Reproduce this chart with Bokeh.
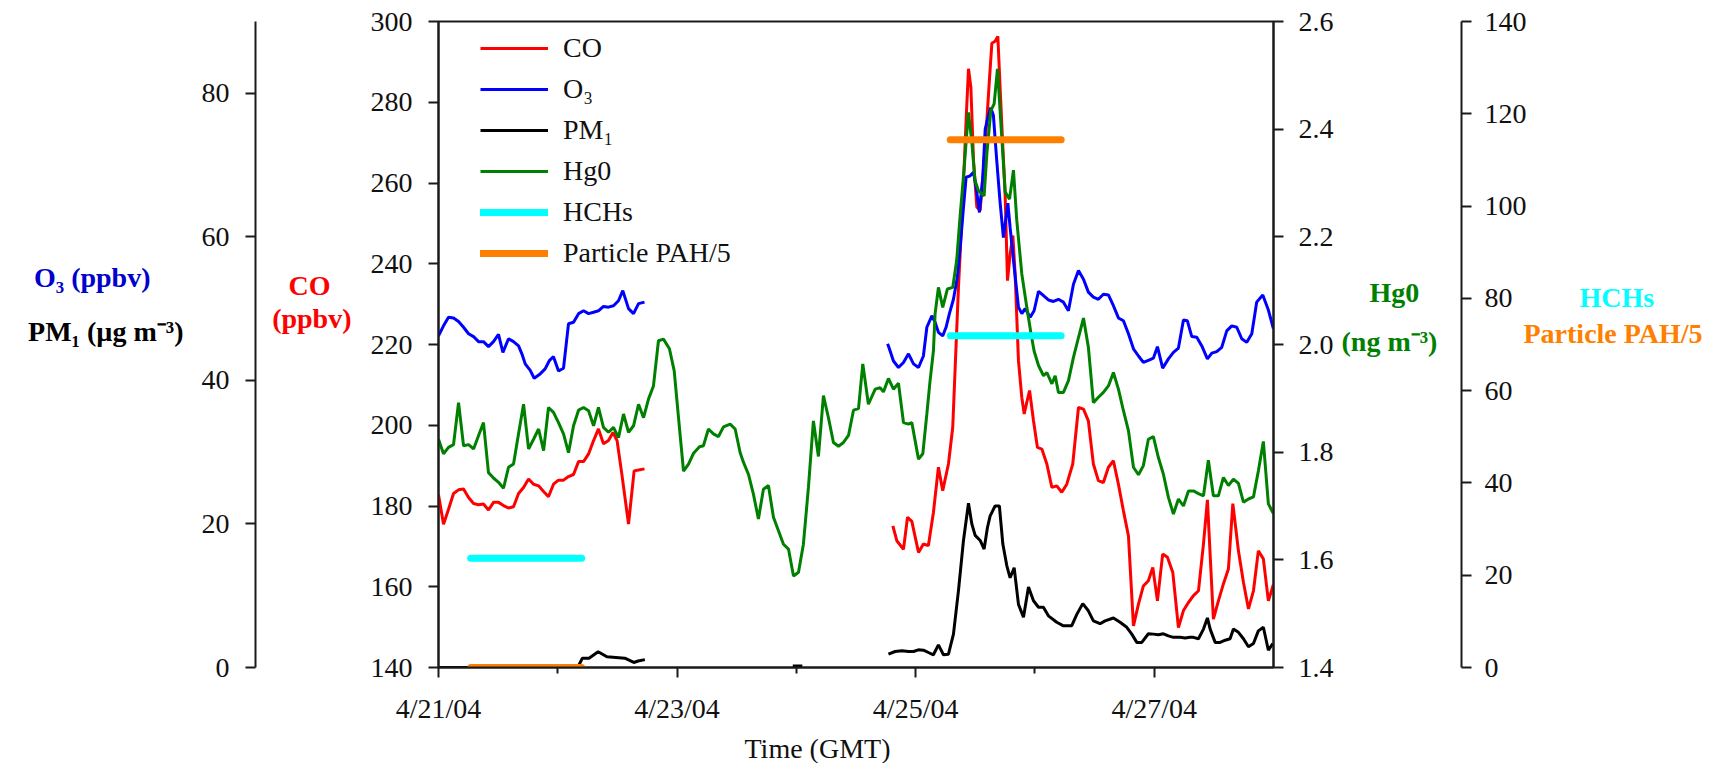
from bokeh.plotting import figure
from bokeh.models import Range1d, LinearAxis, FixedTicker, PrintfTickFormatter
from bokeh.embed import file_html
from bokeh.resources import INLINE

nan = float("nan")

# ---------------- data (time in days since 4/21/04 00:00 GMT) ----------------
x_tick_days = [0, 2, 4, 6]
x_tick_labels = ["4/21/04", "4/23/04", "4/25/04", "4/27/04"]
x_minor_days = [1, 3, 5]
co_ticks = [140, 160, 180, 200, 220, 240, 260, 280, 300]
o3_ticks = [0, 20, 40, 60, 80]
hg_ticks = [1.4, 1.6, 1.8, 2.0, 2.2, 2.4, 2.6]
hch_ticks = [0, 20, 40, 60, 80, 100, 120, 140]

co_t = [0.0, 0.042, 0.084, 0.126, 0.168, 0.210, 0.252, 0.294, 0.336, 0.377, 0.419, 0.461, 0.503,
        0.545, 0.587, 0.629, 0.671, 0.713, 0.755, 0.797, 0.839, 0.881, 0.922, 0.964, 1.006, 1.048,
        1.090, 1.132, 1.174, 1.216, 1.258, 1.300, 1.341, 1.383, 1.425, 1.463, 1.497, 1.537, 1.593,
        1.640, 1.677, 1.727, 2.5,
        3.809, 3.842, 3.898, 3.932, 3.968, 4.024, 4.065, 4.107, 4.149, 4.191, 4.227, 4.275, 4.311,
        4.359, 4.387, 4.409, 4.423, 4.443, 4.463, 4.485, 4.513, 4.541, 4.568, 4.597, 4.619, 4.639,
        4.666, 4.689, 4.708, 4.731, 4.750, 4.770, 4.792, 4.815, 4.834, 4.862, 4.890, 4.910, 4.932,
        4.955, 4.988, 5.021, 5.058, 5.100, 5.142, 5.183, 5.225, 5.267, 5.317, 5.365, 5.407, 5.448,
        5.490, 5.532, 5.574, 5.616, 5.658, 5.700, 5.742, 5.784, 5.826, 5.868, 5.909, 5.951, 5.988,
        6.027, 6.071, 6.111, 6.156, 6.203, 6.245, 6.287, 6.329, 6.371, 6.413, 6.446, 6.496, 6.538,
        6.580, 6.622, 6.659, 6.706, 6.748, 6.790, 6.832, 6.873, 6.915, 6.957, 6.999]
co_ppbv = [182.8, 175.5, 179.2, 183.1, 184.0, 184.2, 182.1, 180.6, 180.3, 180.5, 179.0, 180.9, 180.9,
           180.1, 179.5, 179.8, 183.1, 184.6, 186.7, 185.4, 185.0, 183.6, 182.3, 185.4, 186.4, 186.4,
           187.3, 187.8, 191.0, 191.0, 192.9, 196.2, 199.1, 195.4, 196.2, 198.2, 196.2, 187.9, 175.5,
           188.7, 188.9, 189.2, nan,
           175.1, 171.4, 169.3, 177.2, 176.2, 168.5, 170.6, 170.2, 178.4, 189.6, 183.8, 190.4, 199.5,
           234.2, 250.7, 265.6, 275.5, 288.3, 283.7, 265.6, 254.0, 253.2, 263.1, 275.5, 285.8, 294.6,
           295.1, 296.3, 283.7, 268.9, 257.3, 235.8, 242.4, 247.0, 237.5, 216.0, 206.9, 202.8, 205.7,
           208.6, 201.1, 194.5, 194.1, 190.4, 184.6, 185.0, 183.4, 185.4, 190.4, 204.4, 204.0, 201.1,
           190.4, 186.3, 185.8, 189.6, 191.2, 185.4, 178.8, 172.6, 150.3, 155.7, 160.2, 161.5, 164.8,
           156.5, 168.1, 167.3, 163.5, 149.9, 154.1, 156.1, 157.8, 159.0, 170.6, 181.5, 152.0, 156.5,
           160.7, 164.4, 180.6, 168.9, 161.1, 154.5, 159.0, 168.9, 166.9, 156.5, 160.5]

o3_t = [0.0, 0.042, 0.084, 0.126, 0.168, 0.210, 0.252, 0.294, 0.336, 0.377, 0.419, 0.461, 0.503,
        0.540, 0.587, 0.629, 0.671, 0.699, 0.727, 0.769, 0.802, 0.852, 0.894, 0.931, 0.964, 1.006,
        1.048, 1.090, 1.132, 1.174, 1.216, 1.258, 1.300, 1.341, 1.383, 1.425, 1.467, 1.509, 1.545,
        1.593, 1.635, 1.677, 1.727, 2.5,
        3.764, 3.772, 3.814, 3.856, 3.898, 3.940, 3.982, 4.024, 4.065, 4.094, 4.136, 4.163, 4.191,
        4.227, 4.255, 4.283, 4.317, 4.350, 4.373, 4.401, 4.423, 4.457, 4.485, 4.507, 4.535, 4.563,
        4.583, 4.610, 4.630, 4.652, 4.680, 4.708, 4.736, 4.773, 4.792, 4.826, 4.862, 4.890, 4.918,
        4.960, 4.993, 5.030, 5.072, 5.113, 5.155, 5.197, 5.239, 5.281, 5.323, 5.365, 5.407, 5.448,
        5.490, 5.532, 5.574, 5.616, 5.658, 5.700, 5.742, 5.784, 5.826, 5.868, 5.909, 5.951, 5.993,
        6.027, 6.071, 6.119, 6.161, 6.203, 6.245, 6.278, 6.315, 6.357, 6.399, 6.446, 6.483, 6.524,
        6.566, 6.608, 6.650, 6.692, 6.734, 6.776, 6.818, 6.859, 6.910, 6.957, 6.999]
o3_ppbv = [46.2, 47.6, 48.8, 48.7, 48.2, 47.4, 46.5, 46.1, 45.4, 45.4, 44.7, 45.4, 46.4,
           43.9, 45.8, 45.4, 44.8, 43.7, 42.3, 41.4, 40.3, 40.9, 41.6, 42.8, 43.3, 41.3,
           41.7, 47.9, 48.1, 49.3, 49.7, 49.3, 49.5, 49.7, 50.3, 50.2, 50.4, 51.1, 52.5,
           50.0, 49.3, 50.7, 50.9, nan,
           45.1, 44.8, 42.7, 41.8, 42.5, 43.7, 42.3, 41.8, 43.4, 47.4, 49.0, 48.1, 46.7,
           46.2, 47.4, 49.3, 51.3, 54.4, 58.5, 64.1, 68.3, 68.5, 69.0, 66.9, 63.4, 68.3,
           75.0, 76.9, 78.0, 76.9, 70.6, 64.8, 59.9, 64.7, 61.3, 55.8, 50.2, 49.3, 50.0,
           48.8, 49.7, 52.4, 51.8, 51.2, 51.0, 51.3, 50.9, 49.7, 53.4, 55.3, 54.1, 52.3,
           51.6, 51.3, 52.0, 51.9, 50.4, 48.7, 48.3, 46.5, 44.4, 43.4, 42.5, 42.8, 43.1,
           44.7, 41.7, 43.0, 43.9, 44.5, 48.4, 48.3, 46.1, 46.0, 44.8, 43.0, 43.8, 44.0,
           44.6, 46.9, 47.6, 47.4, 45.8, 45.3, 46.5, 50.9, 51.9, 49.8, 47.2]

pm1_t = [0.0, 0.6, 1.17, 1.206, 1.262, 1.338, 1.412, 1.487, 1.562, 1.637, 1.674, 1.730, 2.3,
         2.97, 3.05, 3.4,
         3.772, 3.828, 3.884, 3.940, 3.982, 4.023, 4.065, 4.107, 4.149, 4.191, 4.233, 4.275, 4.317,
         4.359, 4.401, 4.443, 4.471, 4.499, 4.541, 4.574, 4.602, 4.624, 4.666, 4.702, 4.731, 4.764,
         4.792, 4.826, 4.862, 4.904, 4.946, 4.988, 5.030, 5.071, 5.113, 5.183, 5.239, 5.308, 5.351,
         5.401, 5.448, 5.490, 5.546, 5.588, 5.658, 5.714, 5.770, 5.812, 5.854, 5.896, 5.951, 5.993,
         6.035, 6.077, 6.119, 6.161, 6.217, 6.259, 6.301, 6.329, 6.371, 6.413, 6.446, 6.469, 6.511,
         6.553, 6.595, 6.636, 6.664, 6.706, 6.748, 6.790, 6.832, 6.873, 6.915, 6.957, 6.994]
pm1_ugm3 = [0.0, 0.0, 0.1, 1.3, 1.3, 2.2, 1.5, 1.4, 1.3, 0.7, 0.9, 1.1, nan,
            0.2, 0.2, nan,
            1.86, 2.23, 2.32, 2.23, 2.23, 2.46, 2.42, 2.09, 1.77, 3.16, 1.77, 1.86, 4.65,
            10.7, 17.7, 22.9, 20.0, 18.4, 17.7, 16.5, 19.5, 21.1, 22.5, 22.5, 17.2, 14.2,
            12.5, 13.9, 8.8, 7.0, 11.2, 9.3, 8.4, 8.4, 7.2, 6.3, 5.8, 5.8, 7.4,
            8.9, 7.9, 6.5, 6.1, 6.5, 6.9, 6.3, 5.6, 4.65, 3.5, 3.5, 4.7, 4.65,
            4.55, 4.7, 4.4, 4.2, 4.2, 4.1, 4.2, 4.2, 4.0, 5.35, 6.9, 5.35, 3.5,
            3.5, 3.8, 4.0, 5.35, 4.9, 4.0, 2.9, 3.35, 5.1, 5.6, 2.4, 3.35]

hg_t = [0.0, 0.042, 0.084, 0.126, 0.168, 0.210, 0.252, 0.294, 0.336, 0.377, 0.419, 0.461, 0.503,
        0.545, 0.587, 0.629, 0.671, 0.713, 0.755, 0.797, 0.839, 0.881, 0.922, 0.964, 1.006, 1.048,
        1.090, 1.132, 1.174, 1.216, 1.258, 1.300, 1.341, 1.383, 1.425, 1.467, 1.509, 1.551, 1.593,
        1.635, 1.677, 1.719, 1.761, 1.802, 1.844, 1.886, 1.936, 1.976, 2.012, 2.054, 2.096, 2.138,
        2.188, 2.221, 2.263, 2.305, 2.347, 2.389, 2.445, 2.487, 2.529, 2.557, 2.598, 2.640, 2.682,
        2.724, 2.766, 2.808, 2.850, 2.892, 2.934, 2.976, 3.018, 3.059, 3.101, 3.143, 3.185, 3.227,
        3.269, 3.311, 3.353, 3.395, 3.437, 3.479, 3.521, 3.557, 3.604, 3.661, 3.702, 3.730, 3.772,
        3.814, 3.856, 3.898, 3.940, 3.968, 3.996, 4.024, 4.060, 4.094, 4.121, 4.149, 4.163, 4.191,
        4.227, 4.266, 4.311, 4.344, 4.372, 4.406, 4.442, 4.470, 4.498, 4.526, 4.574, 4.597, 4.630,
        4.658, 4.686, 4.717, 4.751, 4.787, 4.820, 4.848, 4.890, 4.932, 4.966, 4.993, 5.030, 5.072,
        5.100, 5.142, 5.170, 5.197, 5.239, 5.281, 5.323, 5.365, 5.407, 5.448, 5.490, 5.532, 5.574,
        5.616, 5.658, 5.700, 5.742, 5.784, 5.826, 5.868, 5.909, 5.951, 5.993, 6.035, 6.077, 6.119,
        6.161, 6.203, 6.245, 6.287, 6.329, 6.371, 6.413, 6.454, 6.496, 6.538, 6.580, 6.622, 6.664,
        6.706, 6.748, 6.790, 6.832, 6.873, 6.915, 6.957, 6.999]
hg0_ngm3 = [1.824, 1.797, 1.809, 1.814, 1.892, 1.812, 1.814, 1.806, 1.831, 1.855, 1.762, 1.752, 1.744,
            1.733, 1.772, 1.778, 1.834, 1.889, 1.806, 1.824, 1.843, 1.803, 1.883, 1.874, 1.855, 1.834,
            1.799, 1.849, 1.878, 1.883, 1.877, 1.849, 1.883, 1.846, 1.837, 1.846, 1.827, 1.871, 1.837,
            1.849, 1.889, 1.864, 1.899, 1.923, 2.007, 2.010, 1.992, 1.951, 1.864, 1.765, 1.778, 1.798,
            1.810, 1.812, 1.843, 1.834, 1.829, 1.847, 1.852, 1.843, 1.799, 1.781, 1.759, 1.722, 1.676,
            1.731, 1.738, 1.679, 1.654, 1.629, 1.620, 1.570, 1.577, 1.629, 1.734, 1.858, 1.792, 1.905,
            1.864, 1.818, 1.811, 1.818, 1.831, 1.878, 1.881, 1.964, 1.889, 1.917, 1.920, 1.912, 1.937,
            1.917, 1.928, 1.855, 1.852, 1.855, 1.821, 1.787, 1.797, 1.871, 1.933, 1.988, 2.057, 2.106,
            2.069, 2.103, 2.106, 2.156, 2.236, 2.326, 2.431, 2.379, 2.304, 2.286, 2.276, 2.354, 2.434,
            2.447, 2.512, 2.403, 2.283, 2.270, 2.324, 2.230, 2.131, 2.069, 2.022, 1.988, 1.961, 1.942,
            1.948, 1.927, 1.942, 1.911, 1.911, 1.933, 1.976, 2.013, 2.049, 1.995, 1.892, 1.902, 1.911,
            1.923, 1.948, 1.917, 1.877, 1.840, 1.772, 1.758, 1.775, 1.824, 1.829, 1.790, 1.759, 1.716,
            1.685, 1.713, 1.700, 1.728, 1.728, 1.723, 1.719, 1.785, 1.719, 1.719, 1.753, 1.738, 1.750,
            1.742, 1.707, 1.713, 1.717, 1.765, 1.820, 1.704, 1.686]

sample_start = [0.27, 4.29]
sample_end = [1.20, 5.22]
hchs = [23.7, 71.9]
pah_div5 = [0.0, 114.4]

# ---------------- layout constants (page pixels) ----------------
FRAME_L, FRAME_T, FRAME_W, FRAME_H = 438, 21, 835, 646
FRAME_B = FRAME_T + FRAME_H
X0, X1 = 0, 7
CO0, CO1 = 140, 300
O30, O31 = 0, 90
HG0, HG1 = 1.4, 2.6
HC0, HC1 = 0, 140

FONT = "Liberation Serif"
AX = "#1a1a1a"
RED, BLUE, GREEN, CYAN, ORANGE = "#ff0000", "#0000ff", "#008000", "#00ffff", "#ff8000"
NB = "\u00a0"


def at_y(py, lo, hi):
    return round(lo + (FRAME_B - py) / FRAME_H * (hi - lo), 4)


def at_x(px):
    return round(X0 + (px - FRAME_L) / FRAME_W * (X1 - X0), 4)


p = figure(frame_width=FRAME_W, frame_height=FRAME_H,
           min_border_left=FRAME_L, min_border_right=440, min_border_top=FRAME_T, min_border_bottom=88,
           x_range=Range1d(X0, X1), y_range=Range1d(CO0, CO1),
           output_backend="svg", toolbar_location=None,
           background_fill_color="white", border_fill_color="white")
p.extra_y_ranges = {"o3": Range1d(O30, O31), "hg": Range1d(HG0, HG1), "hch": Range1d(HC0, HC1)}
p.grid.visible = False
p.outline_line_color = AX
p.outline_line_width = 2


def style_axis(ax, standoff):
    ax.axis_line_color = AX
    ax.axis_line_width = 2
    ax.major_tick_line_color = AX
    ax.major_tick_line_width = 2
    ax.major_tick_out = 10
    ax.major_tick_in = 0
    ax.minor_tick_line_color = None
    ax.minor_tick_out = 0
    ax.minor_tick_in = 0
    ax.major_label_text_font = FONT
    ax.major_label_text_font_size = "28px"
    ax.major_label_text_color = "#111111"
    ax.major_label_standoff = standoff


def title_axis(side, items, color, standoff, range_name=None, bold=True):
    """An axis with no line and no tick marks whose only labels are the axis titles."""
    ticks = [v for v, _ in items]
    kw = {"y_range_name": range_name} if range_name else {}
    ax = LinearAxis(ticker=FixedTicker(ticks=ticks, minor_ticks=[]),
                    major_label_overrides={v: s for v, s in items}, **kw)
    ax.axis_line_color = None
    ax.major_tick_line_color = None
    ax.minor_tick_line_color = None
    ax.major_tick_out = 0
    ax.major_tick_in = 0
    ax.minor_tick_out = 0
    ax.minor_tick_in = 0
    ax.major_label_text_font = FONT
    ax.major_label_text_font_size = "28px"
    ax.major_label_text_font_style = "bold" if bold else "normal"
    ax.major_label_text_color = color
    ax.major_label_standoff = standoff
    p.add_layout(ax, side)
    return ax


# x axis
xax = p.xaxis[0]
style_axis(xax, 15)
xax.ticker = FixedTicker(ticks=x_tick_days, minor_ticks=x_minor_days)
xax.major_label_overrides = {d: lab for d, lab in zip(x_tick_days, x_tick_labels)}
xax.minor_tick_line_color = AX
xax.minor_tick_line_width = 2
xax.minor_tick_out = 6

# ----- left side: CO axis, CO title, O3/PM1 axis, O3 title, PM1 title -----
coax = p.yaxis[0]
style_axis(coax, 16)
coax.ticker = FixedTicker(ticks=co_ticks)

title_axis("left", [(at_y(285, CO0, CO1), "CO" + NB * 3),
                    (at_y(318, CO0, CO1), NB * 2 + "(ppbv)")], RED, 16)

o3ax = LinearAxis(y_range_name="o3", ticker=FixedTicker(ticks=o3_ticks))
style_axis(o3ax, 16)
p.add_layout(o3ax, "left")

title_axis("left", [(at_y(277, O30, O31), "O₃ (ppbv)")], "#0000cc", 48, range_name="o3")
title_axis("left", [(at_y(331, O30, O31), "PM₁ (µg m⁻³)")], "#000000", -153, range_name="o3")

# ----- right side: Hg0 axis, Hg0 title, HCHs/PAH axis, HCHs title, PAH title -----
hgax = LinearAxis(y_range_name="hg", ticker=FixedTicker(ticks=hg_ticks),
                  formatter=PrintfTickFormatter(format="%.1f"))
style_axis(hgax, 15)
p.add_layout(hgax, "right")

title_axis("right", [(at_y(292, HG0, HG1), NB * 4 + "Hg0"),
                     (at_y(341, HG0, HG1), "(ng m⁻³)" + NB * 3)], GREEN, 5, range_name="hg")

hchax = LinearAxis(y_range_name="hch", ticker=FixedTicker(ticks=hch_ticks))
style_axis(hchax, 13)
p.add_layout(hchax, "right")

title_axis("right", [(at_y(297, HC0, HC1), "HCHs")], CYAN, 50, range_name="hch")
title_axis("right", [(at_y(333, HC0, HC1), "Particle PAH/5")], ORANGE, -134, range_name="hch")

# ----- bottom: time title -----
title_axis("below", [(at_x(817), "Time (GMT)")], "#111111", 6, bold=False)

# ---------------- series ----------------
p.line(co_t, co_ppbv, line_color=RED, line_width=3, legend_label="CO")
p.line(o3_t, o3_ppbv, line_color=BLUE, line_width=3, y_range_name="o3", legend_label="O₃")
p.line(pm1_t, pm1_ugm3, line_color="black", line_width=3, y_range_name="o3", legend_label="PM₁")
p.line(hg_t, hg0_ngm3, line_color=GREEN, line_width=3, y_range_name="hg", legend_label="Hg0")
p.segment(x0=sample_start, y0=hchs, x1=sample_end, y1=hchs, y_range_name="hch",
          line_color=CYAN, line_width=7, line_cap="round", legend_label="HCHs")
p.segment(x0=sample_start, y0=pah_div5, x1=sample_end, y1=pah_div5, y_range_name="hch",
          line_color=ORANGE, line_width=7, line_cap="round", legend_label="Particle PAH/5")

leg = p.legend[0]
leg.location = (42, 398)
leg.border_line_color = None
leg.background_fill_alpha = 0
leg.padding = 0
leg.margin = 0
leg.spacing = 9
leg.glyph_width = 68
leg.glyph_height = 32
leg.label_height = 32
leg.label_standoff = 15
leg.label_text_font = FONT
leg.label_text_font_size = "28px"
leg.label_text_color = "#111111"

open("out.html", "w").write(file_html(p, INLINE))
